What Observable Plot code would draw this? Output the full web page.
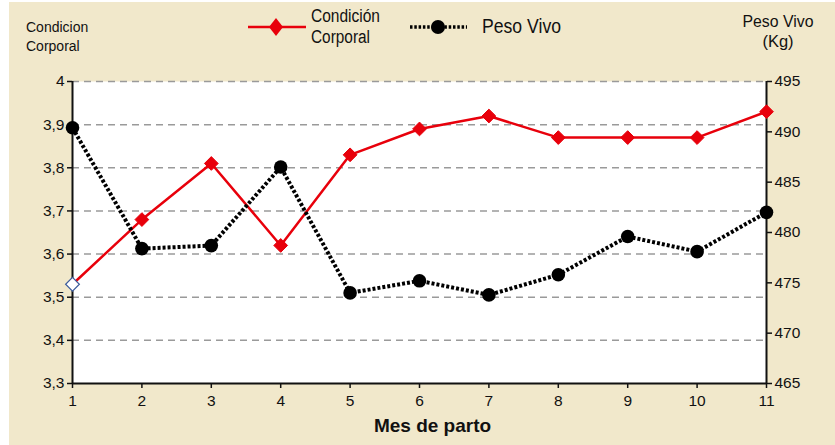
<!DOCTYPE html>
<html>
<head>
<meta charset="utf-8">
<script src="https://cdn.jsdelivr.net/npm/d3@7"></script>
<script src="https://cdn.jsdelivr.net/npm/@observablehq/plot@0.6"></script>
<style>
  html, body { margin: 0; padding: 0; background: #ffffff; }
  #chart { position: absolute; left: 0; top: 0; }
  svg { font-family: "Liberation Sans", Arial, sans-serif; }
</style>
</head>
<body>
<div id="chart"></div>
<script>
// ---- data ----
const months = [1, 2, 3, 4, 5, 6, 7, 8, 9, 10, 11];
const condicion = [3.53, 3.68, 3.81, 3.62, 3.83, 3.89, 3.92, 3.87, 3.87, 3.87, 3.93];
const peso = [490.4, 478.4, 478.7, 486.5, 474.0, 475.2, 473.8, 475.8, 479.6, 478.1, 482.0];
const leftTicks = [3.3, 3.4, 3.5, 3.6, 3.7, 3.8, 3.9, 4.0];
const rightTicks = [465, 470, 475, 480, 485, 490, 495];
const leftDomain = [3.3, 4.0];
const rightDomain = [465, 495];

// map right-axis values onto the left scale
const toLeft = v => leftDomain[0] + (v - rightDomain[0]) / (rightDomain[1] - rightDomain[0]) * (leftDomain[1] - leftDomain[0]);
const toRight = d => rightDomain[0] + (d - leftDomain[0]) / (leftDomain[1] - leftDomain[0]) * (rightDomain[1] - rightDomain[0]);

const rows = months.map((m, i) => ({mes: m, cond: condicion[i], peso: peso[i], pesoL: toLeft(peso[i])}));
const fmtLeft = d => (Math.abs(d - Math.round(d)) < 1e-9 ? String(Math.round(d)) : d.toFixed(1).replace(".", ","));

const W = 835, H = 445;
const red = "#e8000b";
const beige = "#f1e8cb";
const ink = "#111";

const chart = Plot.plot({
  width: W,
  height: H,
  marginLeft: 72,
  marginRight: 69,
  marginTop: 81,
  marginBottom: 62,
  style: {background: "transparent", fontSize: "15.5px", color: ink},
  x: {domain: [months[0], months[months.length - 1]], ticks: months},
  y: {domain: leftDomain, ticks: leftTicks},
  marks: [
    Plot.frame({fill: "white", stroke: null}),
    Plot.gridY(leftTicks.slice(1), {stroke: "#9a9a9a", strokeOpacity: 1, strokeWidth: 1.5, strokeDasharray: "7,5"}),
    Plot.axisY(leftTicks, {anchor: "left", tickFormat: fmtLeft, tickSize: 5, tickPadding: 3, fontSize: 15.5, label: null, stroke: ink, strokeWidth: 1.5}),
    Plot.axisY(rightTicks.map(toLeft), {anchor: "right", tickFormat: d => String(Math.round(toRight(d))), tickSize: 5, tickPadding: 3, fontSize: 15.5, label: null, stroke: ink, strokeWidth: 1.5}),
    Plot.axisX(months, {anchor: "bottom", tickSize: 5, tickPadding: 6, fontSize: 15.5, label: null, stroke: ink, strokeWidth: 1.5}),
    Plot.ruleX([months[0]], {stroke: ink, strokeWidth: 2}),
    Plot.ruleX([months[months.length - 1]], {stroke: ink, strokeWidth: 2}),
    Plot.ruleY([leftDomain[0]], {stroke: ink, strokeWidth: 2}),
    Plot.line(rows, {x: "mes", y: "cond", stroke: red, strokeWidth: 2.5}),
    Plot.dot(rows.slice(1), {x: "mes", y: "cond", symbol: "diamond2", r: 6.2, fill: red, stroke: red, strokeWidth: 1}),
    Plot.dot(rows.slice(0, 1), {x: "mes", y: "cond", symbol: "diamond2", r: 6.2, fill: "white", stroke: "#3a5a9a", strokeWidth: 1.2}),
    Plot.line(rows, {x: "mes", y: "pesoL", stroke: "#000", strokeWidth: 4, strokeDasharray: "3,2", strokeLinecap: "butt", strokeLinejoin: "miter"}),
    Plot.dot(rows, {x: "mes", y: "pesoL", r: 6.8, fill: "#000", stroke: "none"}),
    Plot.text(["Mes de parto"], {frameAnchor: "bottom", dx: 13, dy: 48, lineAnchor: "bottom", fontWeight: "bold", fontSize: 19, fill: ink})
  ]
});

const svg = d3.select(chart);
// beige background panel
svg.insert("rect", ":first-child")
  .attr("x", 9).attr("y", 2).attr("width", W - 9).attr("height", H - 2)
  .attr("fill", beige);

const font = '"Liberation Sans", Arial, sans-serif';

// left axis title
const lt = svg.append("text").attr("font-family", font).attr("font-size", 14).attr("fill", ink)
  .attr("text-anchor", "start");
lt.append("tspan").attr("x", 26).attr("y", 32).text("Condicion");
lt.append("tspan").attr("x", 26).attr("y", 51).text("Corporal");

// right axis title
const rt = svg.append("text").attr("font-family", font).attr("font-size", 16.5).attr("fill", ink)
  .attr("text-anchor", "middle");
rt.append("tspan").attr("x", 778).attr("y", 27).attr("textLength", 71).attr("lengthAdjust", "spacingAndGlyphs").text("Peso Vivo");
rt.append("tspan").attr("x", 778).attr("y", 47).text("(Kg)");

// legend
const lg = svg.append("g");
lg.append("line").attr("x1", 248).attr("x2", 306).attr("y1", 27).attr("y2", 27)
  .attr("stroke", red).attr("stroke-width", 2.5);
lg.append("path").attr("d", "M276,18L283,27L276,36L269,27Z").attr("fill", red);
const lt2 = lg.append("text").attr("font-family", font).attr("font-size", 18).attr("fill", ink)
  .attr("text-anchor", "start");
lt2.append("tspan").attr("x", 311).attr("y", 22).attr("textLength", 69).attr("lengthAdjust", "spacingAndGlyphs").text("Condición");
lt2.append("tspan").attr("x", 311).attr("y", 43).attr("textLength", 59).attr("lengthAdjust", "spacingAndGlyphs").text("Corporal");

lg.append("line").attr("x1", 410).attr("x2", 467).attr("y1", 27).attr("y2", 27)
  .attr("stroke", "#000").attr("stroke-width", 3.5).attr("stroke-dasharray", "2.5,1.8").attr("stroke-linecap", "butt");
lg.append("circle").attr("cx", 438).attr("cy", 27).attr("r", 7).attr("fill", "#000");
lg.append("text").attr("font-family", font).attr("font-size", 20).attr("fill", ink)
  .attr("text-anchor", "start")
  .attr("x", 482).attr("y", 33).attr("textLength", 79).attr("lengthAdjust", "spacingAndGlyphs").text("Peso Vivo");

document.getElementById("chart").appendChild(chart);
</script>
</body>
</html>
